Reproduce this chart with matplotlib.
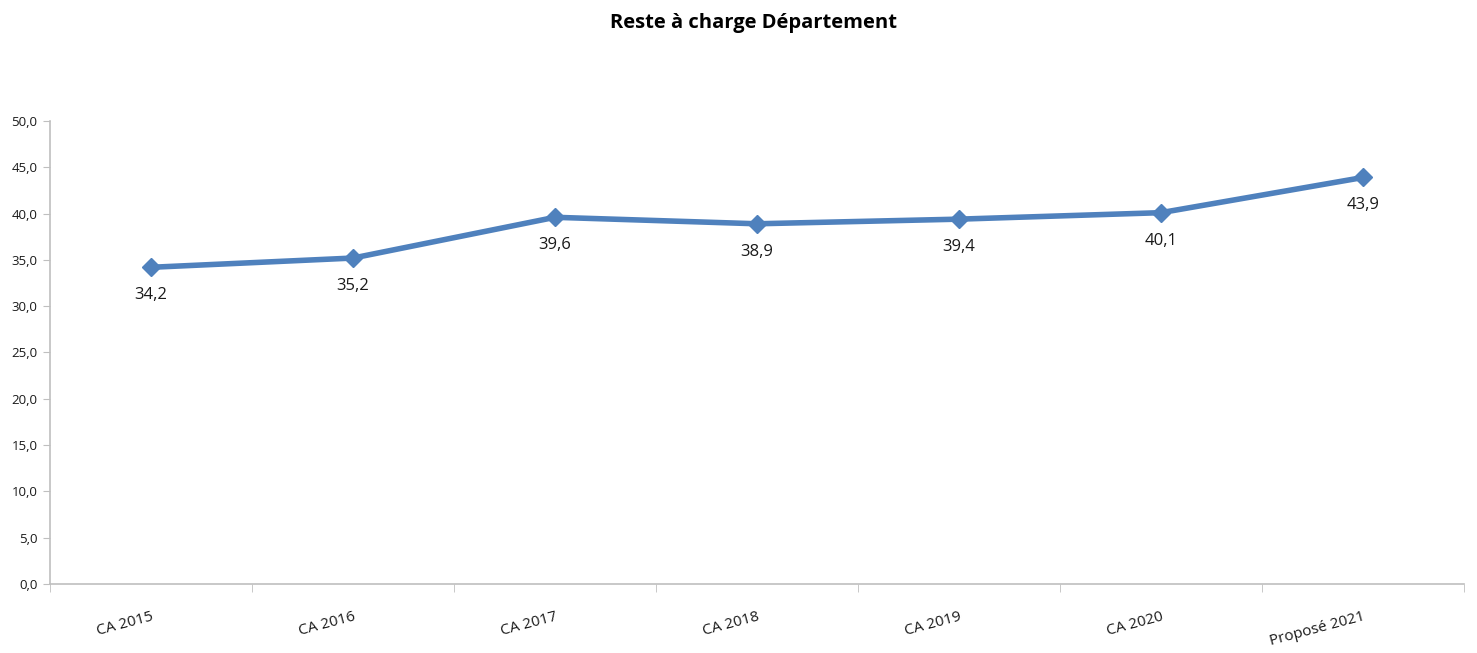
import matplotlib.pyplot as plt
from matplotlib.ticker import FixedLocator, FuncFormatter

categories = ["CA 2015", "CA 2016", "CA 2017", "CA 2018", "CA 2019", "CA 2020", "Proposé 2021"]
values = [34.2, 35.2, 39.6, 38.9, 39.4, 40.1, 43.9]
yticks = [0, 5, 10, 15, 20, 25, 30, 35, 40, 45, 50]

plt.rcParams['font.family'] = ['Open Sans', 'DejaVu Sans']

fig = plt.figure(figsize=(14.77, 6.53), dpi=100)
ax = fig.add_axes([0.0339, 0.1057, 0.9573, 0.709])

x = list(range(len(categories)))
ax.plot(x, values, color='#4F81BD', linewidth=4, marker='D', markersize=9,
        solid_capstyle='round')

for xi, v in zip(x, values):
    ax.annotate(f"{v:.1f}".replace('.', ','), (xi, v), xytext=(0, -28),
                textcoords='offset pixels', ha='center', va='center',
                fontsize=12, color='#1a1a1a')

ax.set_xlim(-0.5, len(categories) - 0.5)
ax.set_ylim(0, 50)
ax.set_yticks(yticks)
ax.yaxis.set_major_formatter(FuncFormatter(lambda v, p: f"{v:.1f}".replace('.', ',')))

ax.set_xticks(x)
ax.set_xticklabels(categories, rotation=15, ha='right', rotation_mode='anchor',
                   fontsize=11, color='#1a1a1a')
ax.xaxis.set_minor_locator(FixedLocator([i - 0.5 for i in range(len(categories) + 1)]))
ax.tick_params(axis='x', which='major', length=0, pad=18)
ax.tick_params(axis='x', which='minor', length=6, color='#BFBFBF', direction='out')
ax.tick_params(axis='y', length=5, color='#BFBFBF', labelsize=9.5, labelcolor='#1a1a1a', pad=4)

for s in ['top', 'right']:
    ax.spines[s].set_visible(False)
for s in ['left', 'bottom']:
    ax.spines[s].set_color('#BFBFBF')
    ax.spines[s].set_linewidth(1.2)

fig.text(0.51, 0.965, "Reste à charge Département", ha='center', va='center',
         fontsize=14.5, fontweight='bold')

fig.savefig('out.png', dpi=100)
